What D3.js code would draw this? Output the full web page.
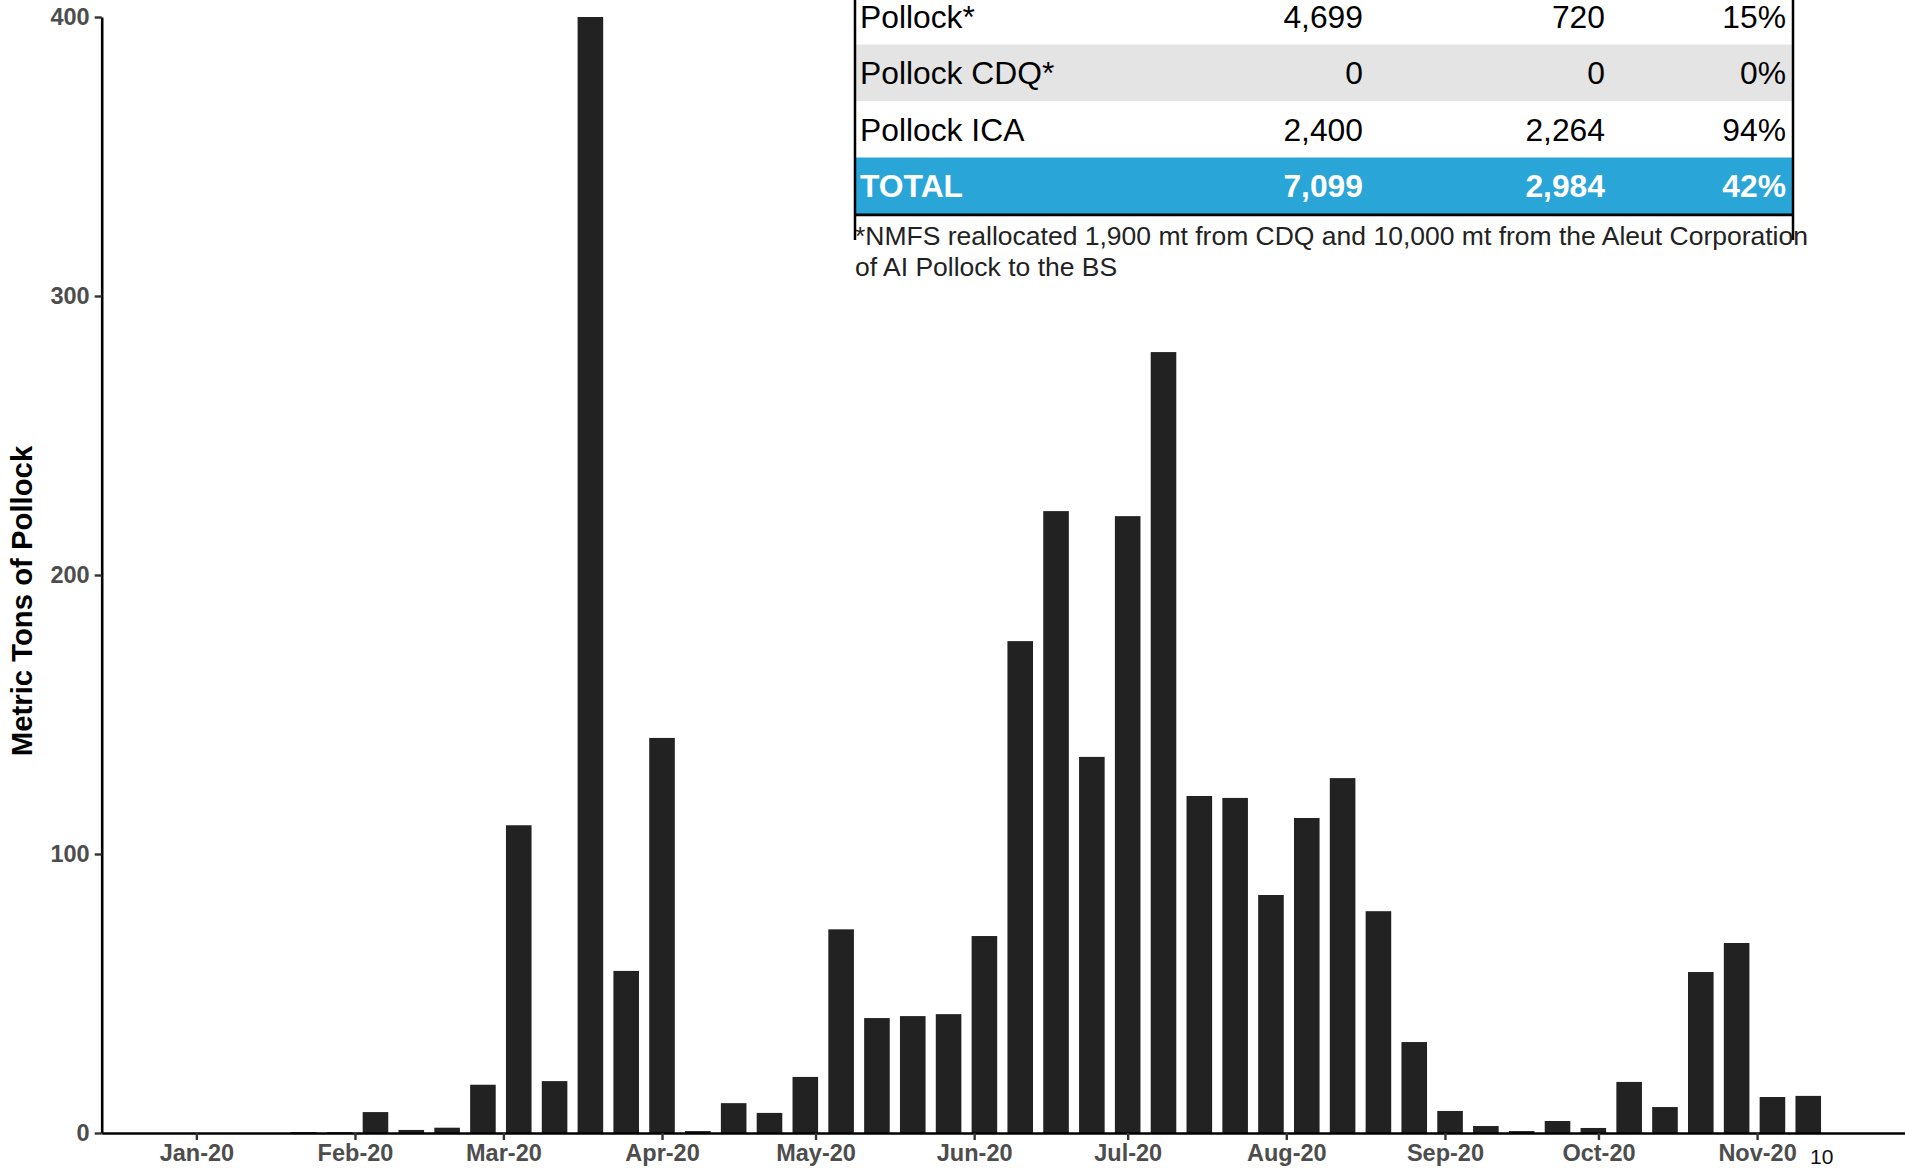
<!DOCTYPE html>
<html>
<head>
<meta charset="utf-8">
<script src="https://cdn.jsdelivr.net/npm/d3@7"></script>
<style>
  html, body { margin: 0; padding: 0; background: #fff; overflow: hidden; }
  svg { display: block; font-family: "Liberation Sans", Arial, sans-serif; }
</style>
</head>
<body>
<svg id="chart" width="1905" height="1168"></svg>
<script>
// ---- data ----
const weeks = ["2020-01-22","2020-01-29","2020-02-05","2020-02-12","2020-02-19","2020-02-26",
  "2020-03-04","2020-03-11","2020-03-18","2020-03-25","2020-04-01","2020-04-08","2020-04-15",
  "2020-04-22","2020-04-29","2020-05-06","2020-05-13","2020-05-20","2020-05-27","2020-06-03",
  "2020-06-10","2020-06-17","2020-06-24","2020-07-01","2020-07-08","2020-07-15","2020-07-22",
  "2020-07-29","2020-08-05","2020-08-12","2020-08-19","2020-08-26","2020-09-02","2020-09-09",
  "2020-09-16","2020-09-23","2020-09-30","2020-10-07","2020-10-14","2020-10-21","2020-10-28",
  "2020-11-04","2020-11-11"];
const catch_mt = [0.3,0.3,7.5,1.1,1.9,17.3,110.3,18.6,400,58.1,141.6,0.7,10.7,7.2,20.1,73,
  41.2,41.9,42.6,70.6,176.3,222.9,134.8,221.1,279.9,120.8,120.1,85.3,112.9,127.2,79.5,32.6,
  7.9,2.5,0.7,4.3,1.8,18.3,9.3,57.7,68.1,12.9,13.3];
const yTicks = [0, 100, 200, 300, 400];
const xTickMonths = ["2020-01-01","2020-02-01","2020-03-01","2020-04-01","2020-05-01","2020-06-01",
  "2020-07-01","2020-08-01","2020-09-01","2020-10-01","2020-11-01"];
const yTitle = "Metric Tons of Pollock";

const tableLabels = ["Pollock*", "Pollock CDQ*", "Pollock ICA", "TOTAL"];
const tableCol2 = ["4,699", "0", "2,400", "7,099"];
const tableCol3 = ["720", "0", "2,264", "2,984"];
const tableCol4 = ["15%", "0%", "94%", "42%"];
const footnoteLines = ["*NMFS reallocated 1,900 mt from CDQ and 10,000 mt from the Aleut Corporation",
  "of AI Pollock to the BS"];
const pageNumber = "10";

// ---- chart ----
const svg = d3.select("#chart");
const parse = d3.utcParse("%Y-%m-%d");
const DAY = 864e5;

const x = d3.scaleUtc()
  .domain([new Date(Date.UTC(2019, 11, 13, 12)), new Date(Date.UTC(2020, 11, 1))])
  .range([101.7, 1910.6]);
const y = d3.scaleLinear().domain([0, 400]).range([1133, 17]);

const data = weeks.map((w, i) => ({ date: parse(w), v: catch_mt[i] }));
const halfW = 2.5 * DAY;

svg.append("g").selectAll("rect").data(data).join("rect")
  .attr("x", d => x(new Date(+d.date - halfW)))
  .attr("width", d => x(new Date(+d.date + halfW)) - x(new Date(+d.date - halfW)))
  .attr("y", d => y(d.v))
  .attr("height", d => y(0) - y(d.v))
  .attr("fill", "#222222");

// y axis
const yAxis = svg.append("g").attr("transform", `translate(${x.range()[0]},0)`)
  .call(d3.axisLeft(y).tickValues(yTicks).tickSize(7).tickSizeOuter(0).tickPadding(5));
yAxis.select(".domain").attr("stroke", "#000").attr("stroke-width", 2.6);
yAxis.selectAll(".tick line").attr("stroke", "#333").attr("stroke-width", 2.4);
yAxis.selectAll(".tick text").attr("fill", "#4d4d4d").attr("font-size", 23.5)
  .attr("font-weight", "bold").attr("font-family", "Liberation Sans, Arial, sans-serif");

// x axis
const xAxis = svg.append("g").attr("transform", `translate(0,${y(0)})`)
  .call(d3.axisBottom(x).tickValues(xTickMonths.map(parse))
    .tickFormat(d3.utcFormat("%b-%y")).tickSize(7).tickSizeOuter(0).tickPadding(4));
xAxis.select(".domain").attr("stroke", "#000").attr("stroke-width", 2.6);
xAxis.selectAll(".tick line").attr("stroke", "#333").attr("stroke-width", 2.4);
xAxis.selectAll(".tick text").attr("fill", "#4d4d4d").attr("font-size", 23.5)
  .attr("font-weight", "bold").attr("font-family", "Liberation Sans, Arial, sans-serif");

// y title
svg.append("text")
  .attr("transform", "translate(32,601) rotate(-90)")
  .attr("text-anchor", "middle")
  .attr("font-size", 29.3).attr("font-weight", "bold").attr("fill", "#000")
  .text(yTitle);

// ---- table ----
const tbl = svg.append("g");
const tLeft = 855, tRight = 1793;
const rowH = 56.5;
const rowFill = ["#ffffff", "#e4e4e4", "#ffffff", "#29a5d8"];
tableLabels.forEach((lab, i) => {
  const top = -12 + i * rowH;
  tbl.append("rect").attr("x", tLeft).attr("y", top).attr("width", tRight - tLeft)
    .attr("height", rowH).attr("fill", rowFill[i]);
  const isTotal = i === 3;
  const base = top + 39.5;
  const col = isTotal ? "#ffffff" : "#000";
  const fw = isTotal ? "bold" : "normal";
  tbl.append("text").attr("x", tLeft + 5).attr("y", base).attr("font-size", 31.8)
    .attr("fill", col).attr("font-weight", fw).text(lab);
  [[tableCol2[i], 1363], [tableCol3[i], 1605], [tableCol4[i], 1786]].forEach(([t, xr]) => {
    tbl.append("text").attr("x", xr).attr("y", base).attr("text-anchor", "end")
      .attr("font-size", 31.8).attr("fill", col).attr("font-weight", fw).text(t);
  });
});
// borders
tbl.append("line").attr("x1", tLeft).attr("x2", tLeft).attr("y1", -20).attr("y2", 240)
  .attr("stroke", "#000").attr("stroke-width", 2.5);
tbl.append("line").attr("x1", tRight).attr("x2", tRight).attr("y1", -20).attr("y2", 240)
  .attr("stroke", "#000").attr("stroke-width", 2.5);
tbl.append("line").attr("x1", tLeft).attr("x2", tRight).attr("y1", 214.8).attr("y2", 214.8)
  .attr("stroke", "#000").attr("stroke-width", 2.8);

// footnote
footnoteLines.forEach((t, i) => {
  svg.append("text").attr("x", 855).attr("y", 245 + i * 31).attr("font-size", 26.5)
    .attr("fill", "#222").text(t);
});

// page number
svg.append("text").attr("x", 1810).attr("y", 1164).attr("font-size", 21)
  .attr("fill", "#111").text(pageNumber);
</script>
</body>
</html>
